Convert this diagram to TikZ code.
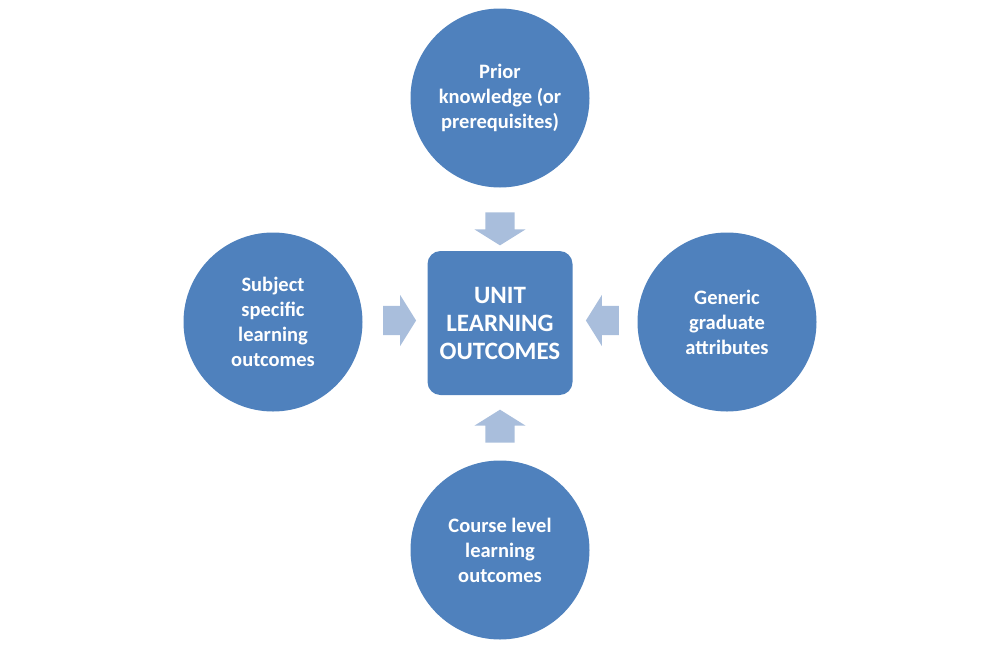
\documentclass[tikz,border=0pt]{standalone}
\usepackage{fontspec}
\setmainfont{Carlito}
\usetikzlibrary{calc,shapes.arrows}

\definecolor{ovalblue}{HTML}{4F81BD}
\definecolor{arrowblue}{HTML}{A9BEDC}

\begin{document}
\begin{tikzpicture}[x=1pt,y=-1pt,
    source/.style={circle,fill=ovalblue,text=white,minimum size=179pt,inner sep=0pt,
        align=center,font=\fontsize{20.5}{25}\selectfont\bfseries},
    target/.style={rectangle,rounded corners=13pt,fill=ovalblue,text=white,
        minimum width=145pt,minimum height=144pt,inner sep=0pt,align=center,
        font=\fontsize{25}{28}\selectfont\bfseries},
    feed/.style={single arrow,fill=arrowblue,inner xsep=0pt,inner ysep=14.5pt,
        single arrow head extend=11pt,single arrow tip angle=116,minimum height=33pt}]
    \useasboundingbox (0,0) rectangle (999,646);

    \node[target] (unit) at (500,323) {UNIT\\LEARNING\\OUTCOMES};
    \node[source] (prior) at (500,98) {Prior\\knowledge (or\\prerequisites)};
    \node[source] (subject) at (273,322) {Subject\\specific\\learning\\outcomes};
    \node[source] (generic) at (727,322) {Generic\\graduate\\attributes};
    \node[source] (course) at (500,550) {Course level\\learning\\outcomes};

    \node[feed,rotate=-90] (a1) at ($(prior.south)!0.5!(unit.north)+(0,5)$) {};
    \node[feed] (a2) at ($(subject.east)!0.5!(unit.west)+(0,-2)$) {};
    \node[feed,rotate=180] (a3) at ($(generic.west)!0.5!(unit.east)+(2,-2)$) {};
    \node[feed,rotate=90] (a4) at ($(course.north)!0.5!(unit.south)+(0,3)$) {};
\end{tikzpicture}
\end{document}
